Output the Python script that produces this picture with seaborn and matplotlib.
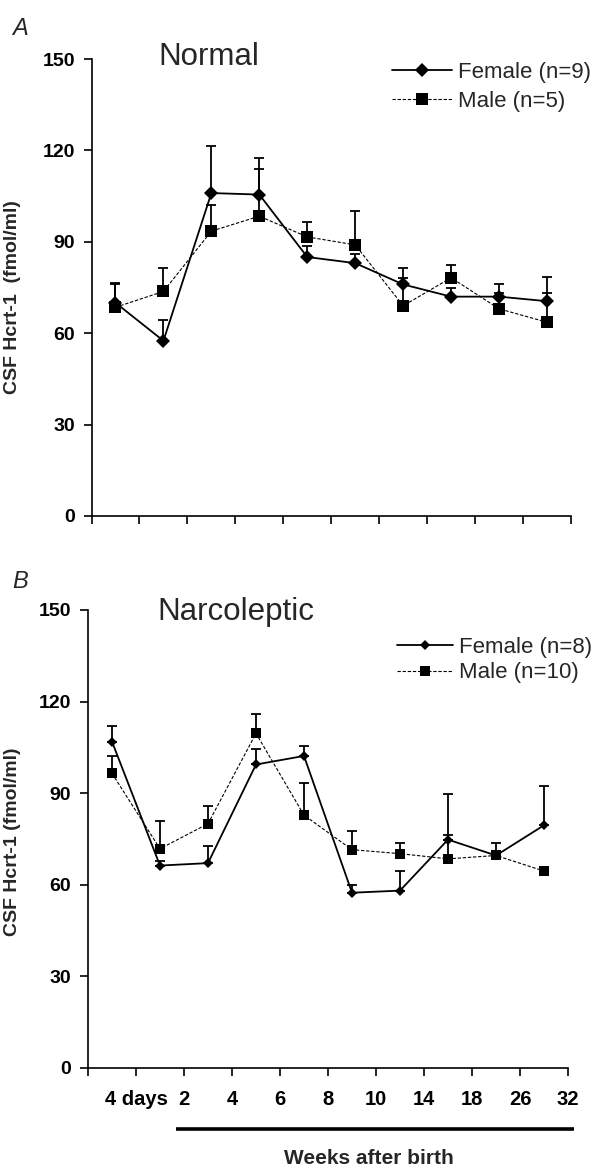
import numpy as np
import pandas as pd
import matplotlib
matplotlib.use("Agg")
import matplotlib.pyplot as plt
import seaborn as sns
from matplotlib.lines import Line2D

# ---- data ----
timepoints = ["4 days", "2", "4", "6", "8", "10", "14", "18", "26", "32"]

female_normal = [70.0, 57.5, 106.0, 105.5, 85.0, 83.0, 76.0, 72.0, 72.0, 70.5]
female_normal_err = [6.4, 6.7, 15.6, 12.1, 3.5, 3.1, 5.4, 2.8, 4.1, 7.9]
male_normal = [68.5, 73.7, 93.5, 98.4, 91.6, 89.0, 69.0, 78.2, 68.0, 63.6]
male_normal_err = [7.5, 7.7, 8.5, 15.4, 5.0, 11.0, 9.2, 4.3, 5.3, 9.7]

female_narco = [106.9, 66.3, 67.1, 99.4, 102.2, 57.4, 58.1, 74.8, 69.6, 79.5]
female_narco_err = [5.2, 1.5, 5.5, 5.0, 3.2, 2.6, 6.4, 15.1, 1.5, 12.8]
male_narco = [96.5, 71.8, 80.0, 109.6, 82.8, 71.5, 70.2, 68.5, 69.6, 64.5]
male_narco_err = [5.7, 9.0, 5.7, 6.4, 10.4, 6.1, 3.6, 7.7, 4.1, 0.8]

yticks = [0, 30, 60, 90, 120, 150]

sns.set_theme(style="white")
plt.rcParams["font.family"] = ["Liberation Sans", "DejaVu Sans"]

W, H = 601, 1168
fig = plt.figure(figsize=(W / 100, H / 100), dpi=100)


def fx(px):
    return px / W


def fy(py):
    return 1 - py / H


axA = fig.add_axes([fx(91.5), fy(516), fx(571) - fx(91.5), fy(59) - fy(516)])
axB = fig.add_axes([fx(88), fy(1068), fx(568) - fx(88), fy(610) - fy(1068)])


def draw_panel(ax, f, fe, m, me, dms, sms):
    x = np.arange(len(timepoints))
    df = pd.DataFrame({"x": x, "female": f, "male": m})
    ax.errorbar(x, f, yerr=[np.zeros(len(x)), fe], fmt="none", ecolor="black",
                elinewidth=1.3, capsize=3.6, capthick=1.3, zorder=2)
    ax.errorbar(x, m, yerr=[np.zeros(len(x)), me], fmt="none", ecolor="black",
                elinewidth=1.3, capsize=3.6, capthick=1.3, zorder=2)
    sns.lineplot(data=df, x="x", y="male", ax=ax, color="black", lw=0.8,
                 linestyle=(0, (3, 1.6)), marker="s", markersize=sms,
                 markeredgewidth=0, zorder=3)
    sns.lineplot(data=df, x="x", y="female", ax=ax, color="black", lw=1.3,
                 marker="D", markersize=dms, markeredgewidth=0, zorder=4)
    ax.set_xlim(-0.5, len(x) - 0.5)
    ax.set_ylim(0, 150)
    ax.set_yticks(yticks)
    ax.set_yticklabels([str(v) for v in yticks], fontsize=14, fontweight="bold")
    ax.set_xticks(np.arange(-0.5, len(x), 1.0))
    for s in ["top", "right"]:
        ax.spines[s].set_visible(False)
    for s in ["left", "bottom"]:
        ax.spines[s].set_color("black")
        ax.spines[s].set_linewidth(1.2)
    ax.tick_params(axis="both", direction="out", bottom=True, left=True,
                   length=6, width=1.2, colors="black")
    ax.tick_params(axis="y", pad=6)
    ax.set_xlabel("")
    handles = [
        Line2D([], [], color="black", lw=1.3, marker="D", markersize=dms,
               markeredgewidth=0),
        Line2D([], [], color="black", lw=0.8, linestyle=(0, (3, 1.6)),
               marker="s", markersize=sms, markeredgewidth=0),
    ]
    return handles


hA = draw_panel(axA, female_normal, female_normal_err, male_normal,
                male_normal_err, 6.8, 8.6)
axA.set_xticklabels([""] * 11)
axA.set_ylabel("CSF Hcrt-1  (fmol/ml)", fontsize=14, fontweight="bold")
axA.yaxis.set_label_coords((21 - 91.5) / 479.5, 0.48)
axA.text((158 - 91.5) / 479.5, (516 - 65) / 457, "Normal", fontsize=22.5,
         ha="left", va="baseline", transform=axA.transAxes)
axA.legend(hA, ["Female (n=9)", "Male (n=5)"], loc="upper left",
           bbox_to_anchor=(fx(392), fy(62)), bbox_transform=fig.transFigure,
           frameon=False, fontsize=16, handlelength=2.7,
           handletextpad=0.28, labelspacing=0.34, borderpad=0,
           borderaxespad=0, numpoints=1)

hB = draw_panel(axB, female_narco, female_narco_err, male_narco,
                male_narco_err, 5.0, 7.4)
axB.set_xticklabels([""] + timepoints, fontsize=14.5, fontweight="bold")
axB.tick_params(axis="x", pad=10)
axB.set_ylabel("CSF Hcrt-1 (fmol/ml)", fontsize=14, fontweight="bold")
axB.yaxis.set_label_coords((21 - 88) / 480, 0.493)
axB.text((157 - 88) / 480, (1068 - 620) / 458, "Narcoleptic", fontsize=22.5,
         ha="left", va="baseline", transform=axB.transAxes)
axB.legend(hB, ["Female (n=8)", "Male (n=10)"], loc="upper left",
           bbox_to_anchor=(fx(397), fy(637)), bbox_transform=fig.transFigure,
           frameon=False, fontsize=16, handlelength=2.5,
           handletextpad=0.3, labelspacing=0.2, borderpad=0,
           borderaxespad=0, numpoints=1)

# panel letters
fig.text(fx(12), fy(35), "A", fontsize=17, fontstyle="italic", ha="left",
         va="baseline")
fig.text(fx(12), fy(588), "B", fontsize=17, fontstyle="italic", ha="left",
         va="baseline")

# bar indicating weeks and its label
fig.add_artist(Line2D([fx(176), fx(574)], [fy(1129), fy(1129)], color="black",
                      lw=2.6, solid_capstyle="butt"))
fig.text(fx(369), fy(1158), "Weeks after birth", fontsize=15, fontweight="bold",
         ha="center", va="center")

fig.savefig("out.png", dpi=100)
